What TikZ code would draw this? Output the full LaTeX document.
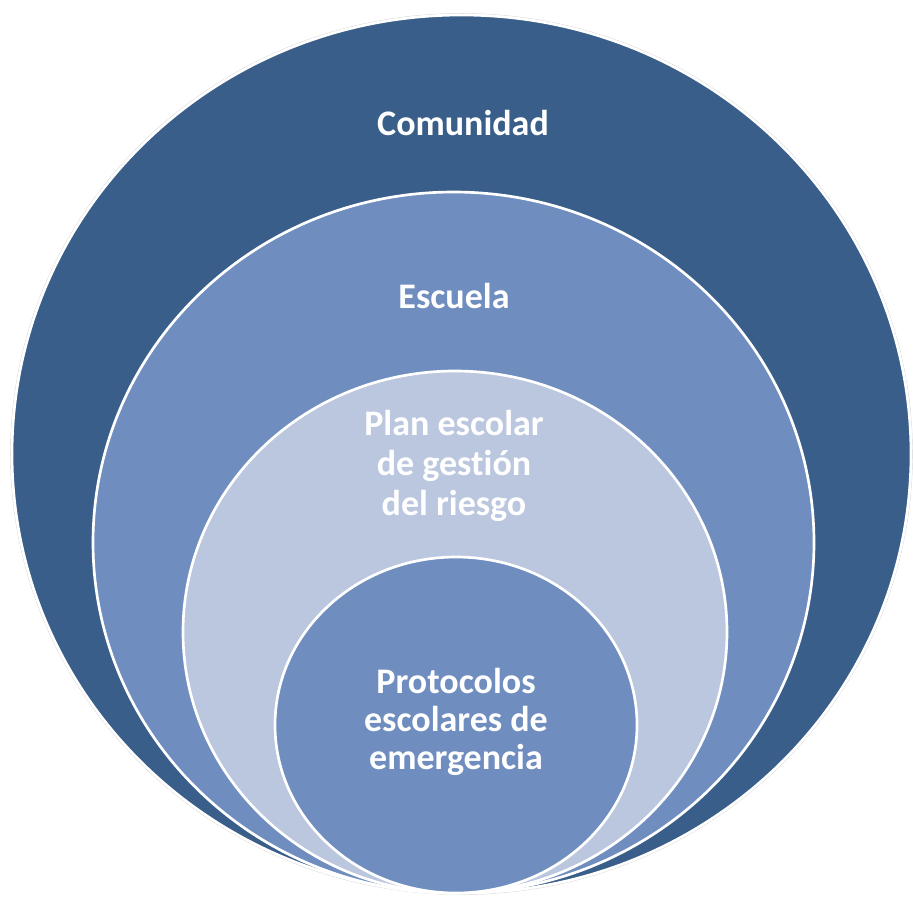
\documentclass[tikz,border=0pt]{standalone}
\usepackage{fontspec}
\setmainfont{Carlito}[Ligatures=NoCommon]
\usepackage{tikz}

\definecolor{ringdark}{HTML}{3A5E8A}
\definecolor{ringmid}{HTML}{6F8EBF}
\definecolor{ringlight}{HTML}{BBC7DF}

\begin{document}
\begin{tikzpicture}[x=0.75pt,y=-0.75pt,
  ring/.style={draw=white,line width=2pt},
  lbl/.style={text=white,align=center,font=\bfseries\fontsize{27}{30}\selectfont}]
\useasboundingbox (0,0) rectangle (913,897);
\draw[gray!35,line width=0.4pt] (461.5,454) ellipse [x radius=451,y radius=440.5];
\draw[ring,fill=ringdark] (461.5,454) ellipse [x radius=449.5,y radius=439];
\draw[ring,fill=ringmid] (453.5,542.5) ellipse [x radius=360.5,y radius=350.5];
\draw[ring,fill=ringlight] (455,632) ellipse [x radius=272,y radius=261];
\draw[ring,fill=ringmid] (456,725) ellipse [x radius=181,y radius=168];
\node[lbl] (comunidad) at (463,123) {Comunidad};
\node[lbl] (escuela) at (454,296) {Escuela};
\node[lbl] (plan) at (454,466) {Plan escolar\\de gest\kern0pt ión\\del riesgo};
\node[lbl,font=\bfseries\fontsize{27}{28.5}\selectfont] (protocolos) at (456,722) {Protocolos\\escolares de\\emergencia};
\end{tikzpicture}
\end{document}
